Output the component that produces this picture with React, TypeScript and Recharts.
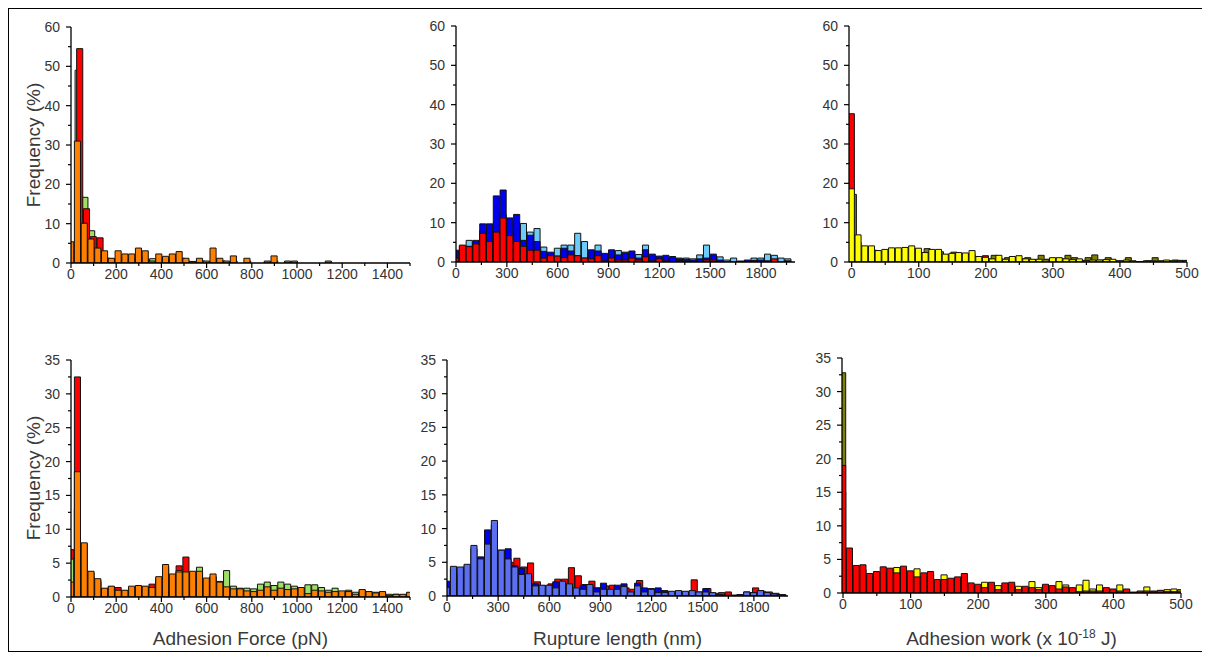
import React from 'react';
import { ComposedChart, Bar, XAxis, YAxis } from 'recharts';

// ---------- bin centres ----------
const forceBins = [0, 30, 60, 90, 120, 150, 180, 210, 240, 270, 300, 330, 360, 390, 420, 450, 480, 510, 540, 570, 600, 630, 660, 690, 720, 750, 780, 810, 840, 870, 900, 930, 960, 990, 1020, 1050, 1080, 1110, 1140, 1170, 1200, 1230, 1260, 1290, 1320, 1350, 1380, 1410, 1440, 1470, 1500];
const lengthBins = [0, 40, 80, 120, 160, 200, 240, 280, 320, 360, 400, 440, 480, 520, 560, 600, 640, 680, 720, 760, 800, 840, 880, 920, 960, 1000, 1040, 1080, 1120, 1160, 1200, 1240, 1280, 1320, 1360, 1400, 1440, 1480, 1520, 1560, 1600, 1640, 1680, 1720, 1760, 1800, 1840, 1880, 1920, 1960];
const workBins = [0, 10, 20, 30, 40, 50, 60, 70, 80, 90, 100, 110, 120, 130, 140, 150, 160, 170, 180, 190, 200, 210, 220, 230, 240, 250, 260, 270, 280, 290, 300, 310, 320, 330, 340, 350, 360, 370, 380, 390, 400, 410, 420, 430, 440, 450, 460, 470, 480, 490, 500];

// ---------- top row ----------
const topForceGreen = [3.0, 49, 16.7, 8.2, 5.0, 1.2, 1.0, 1.2, 1.0, 1.0, 1.5, 1.0, 1.1, 1.0, 0.8, 1.0, 1.0, 0.5, 0.3, 0.5, 0.3, 1.0, 0.5, 0.2, 0.5, 0, 0.5, 0, 0, 0.2, 0.5, 0, 0, 0, 0, 0, 0, 0, 0, 0, 0, 0, 0, 0, 0, 0, 0, 0, 0, 0, 0];
const topForceRed = [1.5, 54.5, 13.8, 6.7, 6.4, 1.2, 1.0, 1.4, 1.0, 1.0, 1.5, 0.5, 0.3, 1.0, 0.8, 1.0, 1.2, 0.3, 0.2, 0.5, 0.3, 1.0, 0.5, 0.2, 0, 0, 0, 0, 0, 0.2, 0, 0, 0, 0, 0, 0, 0, 0, 0, 0, 0, 0, 0, 0, 0, 0, 0, 0, 0, 0, 0];
const topForceOrange = [5.4, 31, 10.1, 6.1, 3.8, 3.1, 1.2, 3.1, 2.3, 2.3, 3.8, 3.1, 0.5, 2.3, 1.7, 2.3, 2.9, 1.2, 0.4, 1.2, 0.5, 3.8, 1.2, 0.5, 1.8, 0, 1.2, 0, 0, 0.5, 1.8, 0, 0.5, 0.5, 0, 0, 0, 0, 0.5, 0, 0, 0, 0, 0, 0, 0, 0, 0, 0, 0, 0];

const topLengthLightBlue = [1.0, 3.0, 5.5, 5.5, 8.0, 6.0, 10.0, 12.0, 9.0, 10.0, 9.8, 7.6, 8.5, 3.8, 2.0, 3.5, 4.3, 4.3, 7.3, 5.2, 2.5, 4.3, 1.8, 2.7, 2.9, 2.5, 2.0, 1.9, 4.3, 1.5, 1.2, 1.0, 1.0, 1.0, 1.0, 0.8, 1.8, 4.3, 1.5, 1.3, 0.5, 1.0, 0.2, 0.3, 1.0, 1.0, 2.0, 1.7, 1.0, 0.8];
const topLengthBlue = [3.0, 4.0, 4.0, 5.3, 9.7, 9.7, 16.8, 18.3, 11.2, 12.1, 5.5, 6.8, 5.2, 2.7, 2.5, 1.5, 3.5, 2.8, 1.6, 1.0, 3.1, 2.8, 2.2, 3.1, 1.8, 2.3, 2.8, 1.0, 3.1, 2.0, 1.5, 1.7, 1.4, 0.8, 0.7, 0.5, 0.8, 1.0, 2.0, 0.5, 0, 0, 0.2, 0.5, 0.4, 0.5, 0.3, 0.3, 0, 0.3];
const topLengthRed = [1.0, 4.3, 3.9, 4.6, 7.3, 5.2, 7.6, 11.2, 6.7, 5.2, 4.0, 3.0, 3.0, 1.0, 1.6, 1.5, 1.1, 1.8, 1.6, 1.0, 0.8, 1.6, 0.3, 1.0, 0.5, 0.5, 1.0, 0.5, 1.3, 0.3, 0.8, 0.3, 0, 0.4, 0.3, 0, 0, 0.5, 0.5, 0, 0, 0, 0, 0, 0.4, 0, 0, 0.8, 0, 0];

const topWorkRed = [37.7, 5.0, 3.0, 3.0, 2.0, 2.5, 3.0, 2.8, 3.0, 3.2, 2.5, 2.0, 2.5, 2.0, 1.5, 1.5, 1.8, 1.5, 2.0, 1.0, 1.6, 0.6, 1.0, 0.5, 1.0, 1.0, 0.5, 0.5, 0.5, 0.3, 0.8, 0.8, 0.5, 0.3, 0.5, 0.3, 0.3, 0.3, 0.4, 0.5, 0.2, 0.3, 0.2, 0, 0.2, 0.2, 0.2, 0.3, 0.2, 0.3, 0.3];
const topWorkOlive = [17.2, 4.0, 3.5, 3.0, 2.5, 2.8, 3.2, 3.0, 3.2, 3.3, 2.4, 3.4, 2.5, 2.6, 1.8, 2.5, 2.0, 2.0, 1.4, 1.2, 0.8, 1.7, 0.7, 1.1, 1.0, 0.8, 1.1, 0.6, 1.7, 0.7, 0.9, 0.8, 1.7, 1.1, 0.4, 1.1, 1.8, 0.5, 1.1, 0.3, 0.3, 1.1, 0.1, 0.1, 0.3, 1.1, 0.2, 0.3, 0.5, 0.4, 0.4];
const topWorkYellow = [18.6, 6.9, 4.1, 4.1, 2.9, 3.2, 3.6, 3.6, 3.7, 4.1, 3.5, 2.4, 3.2, 3.2, 2.0, 2.2, 2.4, 2.3, 2.9, 1.4, 1.2, 0.8, 1.7, 0.7, 1.4, 1.6, 0.8, 0.7, 0.7, 0.5, 1.1, 1.1, 0.8, 0.6, 0.8, 0.4, 0.5, 0.5, 0.6, 0.7, 0.3, 0.5, 0.3, 0.1, 0.3, 0.3, 0.3, 0.5, 0.3, 0.4, 0.4];

// ---------- bottom row ----------
const botForceRed = [7.0, 32.5, 7.8, 3.6, 2.5, 1.2, 1.5, 1.4, 0.9, 1.4, 1.5, 1.5, 1.9, 2.8, 4.5, 3.2, 4.6, 5.9, 3.5, 3.5, 2.5, 3.0, 1.8, 1.2, 1.0, 1.0, 0.8, 0.7, 0.8, 1.2, 0.8, 1.0, 1.0, 1.0, 1.2, 0.4, 0.8, 0.8, 0.6, 0.7, 0.8, 0.7, 0.3, 1.0, 0.7, 0.5, 0.7, 0.2, 0.3, 0.3, 0.6];
const botForceGreen = [5.6, 13, 6.5, 3.0, 2.2, 1.2, 1.4, 0.9, 0.9, 1.4, 1.5, 1.4, 1.2, 2.6, 4.2, 3.0, 3.9, 3.5, 3.5, 4.4, 2.5, 3.0, 2.3, 3.9, 1.6, 1.3, 1.3, 1.2, 1.9, 2.2, 1.7, 2.2, 1.9, 1.6, 1.4, 1.8, 1.8, 1.4, 1.0, 1.3, 0.8, 1.0, 0.7, 0.6, 0.8, 0.7, 0.4, 0.4, 0.4, 0.3, 0.5];
const botForceOrange = [2.2, 18.5, 8.0, 3.8, 2.7, 1.3, 1.6, 1.0, 1.0, 1.6, 1.7, 1.6, 1.4, 3.0, 4.8, 3.4, 3.7, 3.7, 3.8, 3.8, 2.8, 3.4, 2.2, 1.5, 1.2, 1.2, 0.9, 0.8, 1.0, 1.5, 1.0, 1.3, 1.1, 1.2, 1.4, 0.5, 1.0, 0.9, 0.7, 0.8, 0.9, 0.8, 0.4, 1.1, 0.8, 0.6, 0.8, 0.2, 0.4, 0.4, 0.7];

const botLengthRed = [1.0, 3.0, 3.0, 4.0, 4.0, 4.5, 5.0, 6.5, 6.0, 5.0, 5.6, 4.3, 4.9, 2.1, 1.5, 1.8, 2.5, 2.5, 4.2, 3.0, 1.7, 2.2, 1.2, 1.5, 1.6, 1.2, 1.2, 1.0, 2.3, 1.0, 0.9, 0.8, 0.6, 0.5, 0.6, 0.5, 2.4, 0.6, 1.1, 0.4, 0.5, 0.6, 0.1, 0.2, 0.5, 1.2, 0.7, 0.6, 0.4, 0.2];
const botLengthBlue = [2.2, 4.0, 3.3, 4.5, 7.0, 5.8, 9.8, 10.5, 6.8, 7.0, 4.5, 4.1, 3.0, 1.8, 1.5, 1.5, 2.1, 2.0, 1.5, 1.0, 1.6, 1.5, 1.2, 1.9, 0.8, 1.6, 1.8, 0.5, 1.9, 1.2, 1.1, 1.2, 0.8, 0.6, 0.7, 0.6, 0.7, 0.5, 1.1, 0.4, 0.2, 0.1, 0.1, 0.2, 0.6, 0.4, 0.8, 0.4, 0.2, 0.2];
const botLengthPeriwinkle = [1.3, 4.4, 4.3, 4.7, 7.5, 5.5, 7.7, 11.2, 6.8, 5.5, 4.3, 3.2, 3.3, 1.5, 1.6, 1.6, 1.2, 2.2, 1.8, 1.2, 1.0, 1.7, 0.6, 1.0, 1.0, 1.0, 1.4, 0.6, 1.5, 0.6, 1.0, 0.5, 0.5, 0.7, 0.8, 0.7, 0.8, 0.6, 0.6, 0.5, 0.2, 0.1, 0.1, 0.2, 0.6, 0.5, 0.8, 0.5, 0.3, 0.2];

const botWorkOlive = [32.8, 4.0, 2.5, 2.0, 1.5, 2.0, 2.0, 2.0, 2.0, 2.0, 2.0, 1.5, 1.5, 1.5, 1.0, 1.0, 1.0, 1.0, 1.0, 0.8, 0.8, 0.5, 0.8, 0.4, 0.8, 0.8, 0.4, 0.5, 0.5, 0.3, 0.5, 0.5, 0.4, 0.5, 0.4, 0.2, 0.3, 0.3, 0.3, 0.4, 0.3, 0.3, 0.3, 0.1, 0.2, 0.3, 0.2, 0.3, 0.3, 0.3, 0.3];
const botWorkYellow = [15, 5, 3.5, 3.5, 2.5, 2.8, 3.0, 3.2, 3.8, 3.5, 3.0, 3.6, 2.5, 2.8, 1.8, 2.7, 1.8, 2.0, 2.5, 1.2, 1.0, 1.6, 1.4, 1.1, 1.2, 1.3, 1.0, 0.8, 1.7, 0.8, 1.1, 0.9, 1.7, 1.2, 0.6, 1.2, 1.9, 0.6, 1.2, 0.6, 0.4, 1.2, 0.5, 0.1, 0.2, 0.9, 0.3, 0.3, 0.5, 0.6, 0.5];
const botWorkRed = [19.0, 6.7, 4.1, 4.2, 2.9, 3.2, 3.9, 3.7, 3.0, 4.0, 3.3, 2.4, 3.0, 3.2, 2.0, 2.0, 2.2, 2.4, 2.9, 1.5, 1.3, 0.8, 1.6, 0.5, 1.5, 1.6, 0.5, 1.0, 0.8, 0.5, 1.3, 1.1, 0.6, 0.9, 0.8, 0.2, 0.3, 0.3, 0.3, 0.8, 0.6, 0.3, 0.6, 0.1, 0.3, 0.3, 0.2, 0.4, 0.2, 0.2, 0.3];

// ---------- ticks ----------
const forceTicks = [0, 200, 400, 600, 800, 1000, 1200, 1400];
const forceMinor = [100, 300, 500, 700, 900, 1100, 1300, 1500];
const lengthTicks = [0, 300, 600, 900, 1200, 1500, 1800];
const lengthMinor = [150, 450, 750, 1050, 1350, 1650, 1950];
const workTicks = [0, 100, 200, 300, 400, 500];
const workMinor = [50, 150, 250, 350, 450];
const freqTopTicks = [0, 10, 20, 30, 40, 50, 60];
const freqTopMinor = [5, 15, 25, 35, 45, 55];
const freqBotTicks = [0, 5, 10, 15, 20, 25, 30, 35];
const freqBotMinor = [2.5, 7.5, 12.5, 17.5, 22.5, 27.5, 32.5];

const FONT = "'Liberation Sans', Arial, Helvetica, sans-serif";
const C = {
  orange: '#FF8000',
  red: '#FF0000',
  green: '#9CE066',
  lightBlue: '#6CCBF9',
  blue: '#0000F0',
  yellow: '#FFFF00',
  olive: '#7E7E00',
  periwinkle: '#5B6FF2',
};

type Series = { values: number[]; color: string; shift: number };
type Panel = {
  plotLeft: number; plotTop: number; plotW: number; plotH: number;
  bins: number[]; binWidth: number; xDomain: [number, number];
  xMajor: number[]; xMinor: number[];
  yMax: number; yMajor: number[]; yMinor: number[];
  series: Series[];
};

const YW = 50;
const TOP = 8;
const RIGHT = 22;
const XH = 30;
const ORIGIN = 9; // body margin + frame border

const XTick = (props: any) => {
  const { x, y, payload, majors } = props;
  const major = majors.includes(payload.value);
  return (
    <g>
      <line x1={x} x2={x} y1={y} y2={y + (major ? 5 : 3)} stroke="#000" strokeWidth={1.2} />
      {major && (
        <text x={x} y={y + 15.5} textAnchor="middle" fontSize={14} fill="#333" fontFamily={FONT}>
          {payload.value}
        </text>
      )}
    </g>
  );
};

const YTick = (props: any) => {
  const { x, y, payload, majors } = props;
  const major = majors.includes(payload.value);
  return (
    <g>
      <line x1={x} x2={x - (major ? 5 : 3)} y1={y} y2={y} stroke="#000" strokeWidth={1.2} />
      {major && (
        <text x={x - 11} y={y + 5} textAnchor="end" fontSize={14} fill="#333" fontFamily={FONT}>
          {payload.value}
        </text>
      )}
    </g>
  );
};

function HistPanel({ p }: { p: Panel }) {
  const rows = p.bins.map((b, i) => {
    const row: Record<string, number> = {};
    p.series.forEach((s, j) => {
      row['x' + j] = b + s.shift;
      row['v' + j] = s.values[i];
    });
    return row;
  });
  const barSize = (p.binWidth * p.plotW) / (p.xDomain[1] - p.xDomain[0]);
  const xTicks = [...p.xMajor, ...p.xMinor].sort((a, b) => a - b);
  const yTicks = [...p.yMajor, ...p.yMinor].sort((a, b) => a - b);
  const width = YW + p.plotW + RIGHT;
  const height = TOP + p.plotH + XH;
  return (
    <div style={{ position: 'absolute', left: p.plotLeft - YW - ORIGIN, top: p.plotTop - TOP - ORIGIN }}>
      <ComposedChart width={width} height={height} data={rows} margin={{ top: TOP, right: RIGHT, left: 0, bottom: 0 }}>
        {p.series.map((s, j) => (
          <XAxis
            key={'ax' + j}
            xAxisId={j}
            dataKey={'x' + j}
            type="number"
            domain={p.xDomain}
            allowDataOverflow
            hide={j > 0}
            height={XH}
            ticks={xTicks}
            interval={0}
            tickSize={0}
            tickMargin={0}
            tickLine={false}
            axisLine={{ stroke: '#000', strokeWidth: 1.3 }}
            tick={(tp: any) => <XTick {...tp} majors={p.xMajor} />}
          />
        ))}
        <YAxis
          type="number"
          domain={[0, p.yMax]}
          allowDataOverflow
          width={YW}
          ticks={yTicks}
          interval={0}
          tickSize={0}
          tickMargin={0}
          tickLine={false}
          axisLine={{ stroke: '#000', strokeWidth: 1.3 }}
          tick={(tp: any) => <YTick {...tp} majors={p.yMajor} />}
        />
        {p.series.map((s, j) => (
          <Bar
            key={'b' + j}
            xAxisId={j}
            dataKey={'v' + j}
            fill={s.color}
            stroke="#111"
            strokeWidth={1}
            barSize={barSize}
            isAnimationActive={false}
          />
        ))}
      </ComposedChart>
    </div>
  );
}

const panels: Panel[] = [
  {
    plotLeft: 71, plotTop: 27, plotW: 339, plotH: 236,
    bins: forceBins, binWidth: 30, xDomain: [0, 1500], xMajor: forceTicks, xMinor: forceMinor,
    yMax: 60, yMajor: freqTopTicks, yMinor: freqTopMinor,
    series: [
      { values: topForceGreen, color: C.green, shift: 3 },
      { values: topForceRed, color: C.red, shift: 10 },
      { values: topForceOrange, color: C.orange, shift: 0 },
    ],
  },
  {
    plotLeft: 456, plotTop: 26, plotW: 339, plotH: 236,
    bins: lengthBins, binWidth: 40, xDomain: [0, 2000], xMajor: lengthTicks, xMinor: lengthMinor,
    yMax: 60, yMajor: freqTopTicks, yMinor: freqTopMinor,
    series: [
      { values: topLengthLightBlue, color: C.lightBlue, shift: 0 },
      { values: topLengthBlue, color: C.blue, shift: 0 },
      { values: topLengthRed, color: C.red, shift: 0 },
    ],
  },
  {
    plotLeft: 849, plotTop: 26, plotW: 338, plotH: 236,
    bins: workBins, binWidth: 10, xDomain: [-4, 500], xMajor: workTicks, xMinor: workMinor,
    yMax: 60, yMajor: freqTopTicks, yMinor: freqTopMinor,
    series: [
      { values: topWorkRed, color: C.red, shift: 0 },
      { values: topWorkOlive, color: C.olive, shift: 3 },
      { values: topWorkYellow, color: C.yellow, shift: 0 },
    ],
  },
  {
    plotLeft: 71, plotTop: 360, plotW: 339, plotH: 237,
    bins: forceBins, binWidth: 30, xDomain: [0, 1500], xMajor: forceTicks, xMinor: forceMinor,
    yMax: 35, yMajor: freqBotTicks, yMinor: freqBotMinor,
    series: [
      { values: botForceRed, color: C.red, shift: 0 },
      { values: botForceGreen, color: C.green, shift: 0 },
      { values: botForceOrange, color: C.orange, shift: 0 },
    ],
  },
  {
    plotLeft: 447, plotTop: 360, plotW: 341, plotH: 236,
    bins: lengthBins, binWidth: 40, xDomain: [0, 2000], xMajor: lengthTicks, xMinor: lengthMinor,
    yMax: 35, yMajor: freqBotTicks, yMinor: freqBotMinor,
    series: [
      { values: botLengthRed, color: C.red, shift: 12 },
      { values: botLengthBlue, color: C.blue, shift: 0 },
      { values: botLengthPeriwinkle, color: C.periwinkle, shift: 0 },
    ],
  },
  {
    plotLeft: 842, plotTop: 358, plotW: 339, plotH: 235,
    bins: workBins, binWidth: 10, xDomain: [-1.5, 500], xMajor: workTicks, xMinor: workMinor,
    yMax: 35, yMajor: freqBotTicks, yMinor: freqBotMinor,
    series: [
      { values: botWorkOlive, color: C.olive, shift: 0 },
      { values: botWorkYellow, color: C.yellow, shift: 0 },
      { values: botWorkRed, color: C.red, shift: 0 },
    ],
  },
];

const titleStyle = { fontFamily: FONT, fontSize: 19, fill: '#3a3a3a' } as const;

export default function App() {
  return (
    <div
      style={{
        position: 'relative',
        width: 1198,
        height: 644,
        border: '1px solid #000',
        boxSizing: 'border-box',
        background: '#fff',
      }}
    >
      {panels.map((p, i) => (
        <HistPanel key={i} p={p} />
      ))}
      <svg
        width={1196}
        height={642}
        style={{ position: 'absolute', left: 0, top: 0, pointerEvents: 'none' }}
      >
        <text transform={`translate(${40 - ORIGIN},${145 - ORIGIN}) rotate(-90)`} textAnchor="middle" {...titleStyle}>
          Frequency (%)
        </text>
        <text transform={`translate(${40 - ORIGIN},${478 - ORIGIN}) rotate(-90)`} textAnchor="middle" {...titleStyle}>
          Frequency (%)
        </text>
        <text x={240.5 - ORIGIN} y={645 - ORIGIN} textAnchor="middle" {...titleStyle}>
          Adhesion Force (pN)
        </text>
        <text x={617.5 - ORIGIN} y={645 - ORIGIN} textAnchor="middle" {...titleStyle}>
          Rupture length (nm)
        </text>
        <text x={1011.5 - ORIGIN} y={645 - ORIGIN} textAnchor="middle" {...titleStyle}>
          Adhesion work (x 10
          <tspan dy={-7} fontSize={12}>-18</tspan>
          <tspan dy={7}> J)</tspan>
        </text>
      </svg>
    </div>
  );
}
